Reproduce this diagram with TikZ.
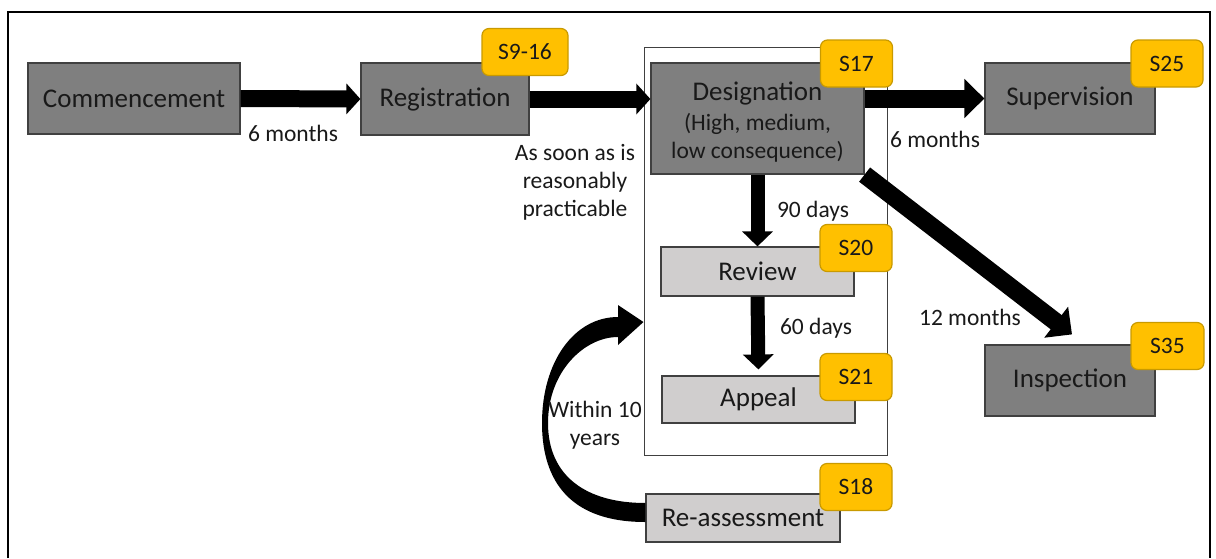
\documentclass[tikz,border=0pt]{standalone}
\usepackage{fontspec}
\setmainfont{Carlito}
\usetikzlibrary{arrows.meta}
\definecolor{darkfill}{HTML}{7F7F7F}
\definecolor{lightfill}{HTML}{D0CECE}
\definecolor{edgegrey}{HTML}{404040}
\definecolor{tagfill}{HTML}{FFC000}
\definecolor{tagedge}{HTML}{C99A00}
\newcommand{\lbl}{\fontsize{11.75}{14}\selectfont}
\newcommand{\boxfont}{\fontsize{13.5}{14}\selectfont}
\begin{document}
\begin{tikzpicture}[x=0.5pt, y=-0.5pt,
	every node/.append style={text=black!90},
	stage/.style={draw=edgegrey, line width=0.6pt, fill=darkfill, inner sep=0pt, font=\boxfont, minimum height=35.5pt},
	substage/.style={stage, fill=lightfill, minimum height=24pt},
	tag/.style={draw=tagedge, line width=0.6pt, fill=tagfill, rounded corners=3.5pt, minimum height=23.5pt, inner sep=0pt, font=\lbl},
	flow/.style={line width=8.5pt, -{Triangle[length=7pt, width=15pt]}},
	bigflow/.style={line width=9pt, -{Triangle[length=10pt, width=19pt]}},
	downflow/.style={line width=7pt, -{Triangle[length=7.5pt, width=15pt]}},
	note/.style={font=\lbl, align=center, inner sep=0pt}]
	
	\useasboundingbox (0,0) rectangle (1216,558);
	\draw[line width=1pt] (8,558) -- (8,12) -- (1210,12) -- (1210,558);
	
	\node[draw=edgegrey, line width=0.5pt, minimum width=121.5pt, minimum height=204pt, inner sep=0pt] (group) at (765.5,251) {};
	
	\node[stage, minimum width=106pt] (comm) at (134,98.5) {Commencement};
	\node[stage, minimum width=84pt, minimum height=36pt] (reg) at (445,99) {Registration};
	\node[stage, minimum width=106.5pt, minimum height=55.5pt, align=center] (desig) at (757.5,118.5) {\rule{0pt}{12.5pt}Designation\\[1pt]\lbl (High, medium,\\\lbl low consequence)};
	\node[stage, minimum width=85pt] (sup) at (1070,98.5) {Supervision};
	\node[stage, minimum width=85pt] (insp) at (1070,380.5) {Inspection};
	\node[substage, minimum width=96.5pt, minimum height=24.5pt] (review) at (757.5,271.5) {Review};
	\node[substage, minimum width=96.5pt, minimum height=23.5pt] (appeal) at (758.5,399.5) {Appeal};
	\node[substage, minimum width=97pt] (reassess) at (743,518) {Re-assessment};
	
	\draw[flow] (comm.east) -- (reg.west);
	\draw[flow] (reg.east) -- (reg.east -| desig.west);
	\draw[bigflow] (desig.east |- sup.west) -- (sup.west);
	\draw[bigflow] (desig.south east) -- ([xshift=1pt, yshift=5pt]insp.north);
	\draw[downflow] (desig.south) -- (review.north);
	\draw[downflow, shorten >=3pt] (review.south) -- (appeal.north);
	
	\coordinate (looptip) at ([yshift=-35.5pt]group.west);
	\fill ([yshift=-2pt]reassess.west) .. controls (562,522) and (542,472) .. (542,423)
		.. controls (542,362) and (574,317) .. (618,317) -- (618,305) -- (looptip) -- (618,345) -- (618,337)
		.. controls (584,337) and (548,372) .. (548,423)
		.. controls (548,476) and (586,503) .. ([yshift=7.5pt]reassess.west) -- cycle;
	
	\node[note] (m1) at (293,133) {6 months};
	\node[note] (asap) at (575,182) {As soon as is\\reasonably\\practicable};
	\node[note] (m2) at (935,139) {6 months};
	\node[note] (d90) at (813,211) {90 days};
	\node[note] (d60) at (816,328) {60 days};
	\node[note] (m12) at (970,317) {12 months};
	\node[note] (ten) at (595,425) {Within 10\\years};
	
	\foreach \n/\t/\x/\y/\w in {reg/S9-16/525/52/43, desig/S17/856.5/63.5/36, sup/S25/1167/63.5/36, review/S20/856/248/36, appeal/S21/856/377/36, insp/S35/1167.5/346/36.5, reassess/S18/856/487/36}
	{
		\node[tag, minimum width=\w pt] (tag\n) at (\x,\y) {\t};
	}
\end{tikzpicture}
\end{document}
